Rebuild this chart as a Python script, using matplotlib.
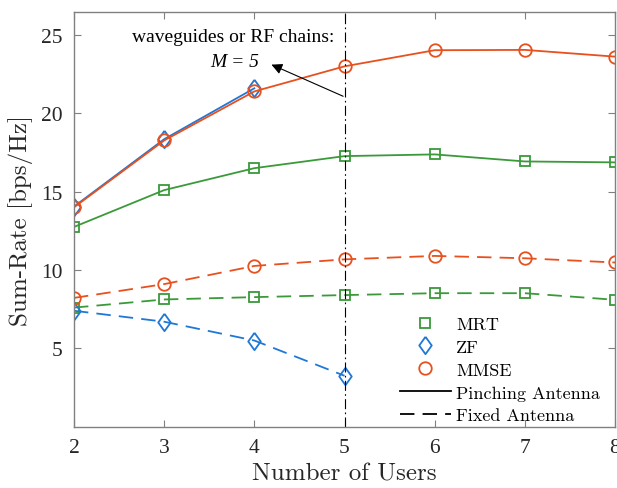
import matplotlib
matplotlib.use("Agg")
import matplotlib.pyplot as plt
from matplotlib.lines import Line2D

# number of users on the x axis
users = [2, 3, 4, 5, 6, 7, 8]
zf_users = [2, 3, 4]
zf_fixed_users = [2, 3, 4, 5]

# pinching antenna (solid)
mrt_pinch = [12.75, 15.1, 16.5, 17.27, 17.38, 16.93, 16.87]
zf_pinch = [14.05, 18.35, 21.6]
mmse_pinch = [14.0, 18.27, 21.4, 23.0, 24.03, 24.05, 23.62]

# fixed antenna (dashed)
mrt_fixed = [7.6, 8.12, 8.27, 8.4, 8.52, 8.52, 8.1]
zf_fixed = [7.4, 6.7, 5.5, 3.25]
mmse_fixed = [8.22, 9.1, 10.26, 10.68, 10.9, 10.75, 10.48]

x_ticks = [2, 3, 4, 5, 6, 7, 8]
y_ticks = [5, 10, 15, 20, 25]

green = "#3a9a3a"
blue = "#1f78d6"
orange = "#e8501e"
axis_grey = "#808080"

diamond = [(0, 1), (0.72, 0), (0, -1), (-0.72, 0), (0, 1)]
dash = (0, (8, 4.5))

fig = plt.figure(figsize=(6.17, 4.89), dpi=100)
ax = fig.add_axes([0.1199, 0.1254, 0.8769, 0.8474])

mk = dict(markerfacecolor="none", markeredgewidth=1.3, linewidth=1.3)
ax.plot(users, mrt_pinch, color=green, marker="s", markersize=7.3, **mk)
ax.plot(zf_users, zf_pinch, color=blue, marker=diamond, markersize=12.5, **mk)
ax.plot(users, mmse_pinch, color=orange, marker="o", markersize=9, **mk)

ax.plot(users, mrt_fixed, color=green, marker="s", markersize=7.3, linestyle=dash, **mk)
ax.plot(zf_fixed_users, zf_fixed, color=blue, marker=diamond, markersize=12.5, linestyle=dash, **mk)
ax.plot(users, mmse_fixed, color=orange, marker="o", markersize=9, linestyle=dash, **mk)

ax.axvline(5, color="black", linewidth=0.8, linestyle=(0, (9, 3, 1.5, 3)))

ax.text(3.77, 24.9, "waveguides or RF chains:", family="Liberation Serif",
        fontsize=14, ha="center", va="center")
ax.text(3.78, 23.3, "M = 5", family="Liberation Serif", style="italic",
        fontsize=14, ha="center", va="center")
ax.annotate("", xy=(4.19, 23.11), xytext=(4.985, 21.09),
            arrowprops=dict(arrowstyle="-|>", color="black", lw=0.8,
                            mutation_scale=16, shrinkA=0, shrinkB=0))

ax.set_xlim(2, 8)
ax.set_ylim(0, 26.45)
ax.set_xticks(x_ticks)
ax.set_yticks(y_ticks)
ax.tick_params(direction="in", top=True, right=True, length=5, width=0.8,
               color=axis_grey, labelsize=15.5, labelcolor="#262626", pad=8)
for lab in ax.get_xticklabels() + ax.get_yticklabels():
    lab.set_family("Liberation Serif")
for s in ax.spines.values():
    s.set_color(axis_grey)
    s.set_linewidth(1.0)

ax.set_xlabel("Number of Users", family="cmr10", fontsize=18, color="#262626", labelpad=4)
ax.set_ylabel("Sum-Rate [bps/Hz]", family="cmr10", fontsize=18, color="#262626", labelpad=6)

handles = [
    Line2D([], [], color=green, marker="s", markersize=7.3, linestyle="none",
           markerfacecolor="none", markeredgewidth=1.3),
    Line2D([], [], color=blue, marker=diamond, markersize=12.5, linestyle="none",
           markerfacecolor="none", markeredgewidth=1.3),
    Line2D([], [], color=orange, marker="o", markersize=9, linestyle="none",
           markerfacecolor="none", markeredgewidth=1.3),
    Line2D([], [], color="black", linewidth=1.3),
    Line2D([], [], color="black", linewidth=1.3, linestyle=dash),
]
labels = ["MRT", "ZF", "MMSE", "Pinching Antenna", "Fixed Antenna"]
ax.legend(handles, labels, loc="lower right", bbox_to_anchor=(0.972, 0.008),
          frameon=False, prop={"family": "cmr10", "size": 13},
          handlelength=2.8, handletextpad=0.3, labelspacing=0.4,
          borderpad=0, borderaxespad=0)

fig.savefig("out.png", dpi=100)
